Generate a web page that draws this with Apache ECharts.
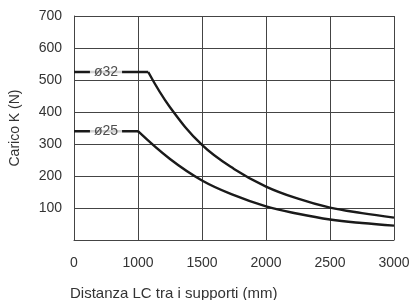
<!DOCTYPE html>
<html>
<head>
<meta charset="utf-8">
<script src="https://cdn.jsdelivr.net/npm/echarts@6/dist/echarts.min.js"></script>
<style>
  html, body { margin: 0; padding: 0; background: #fff; }
  #chart { width: 414px; height: 300px; }
</style>
</head>
<body>
<div id="chart"></div>
<script>
// distanza LC (mm) e carico K (N)
const d32 = [0, 1080, 1250, 1500, 1750, 2000, 2250, 2500, 2750, 3000]
const k32 = [525, 525, 415, 297, 222, 167, 129, 101, 84, 70]
const d25 = [0, 1000, 1250, 1500, 1750, 2000, 2250, 2500, 2750, 3000]
const k25 = [340, 340, 253, 186, 140, 105, 82, 64, 53, 45]
const xTicks = [0, 1000, 1500, 2000, 2500, 3000]
const labelText = ['ø32', 'ø25']
const labelAt = [500, 500]
const labelK = [525, 340]

// the x axis is broken: 0..1000 takes the same width as 500
function pos (mm) {
  return mm <= 1000 ? 500 + mm / 2 : mm
}
function axisText (v) {
  return v <= 1000 ? String((v - 500) * 2) : String(v)
}

const font = 'Liberation Sans, Arial, sans-serif'
const chart = echarts.init(document.getElementById('chart'))
const lineStyle = { color: '#1a1a1a', width: 2.4 }

// flat part up to the knee (straight), then the falling curve (smoothed)
function curve (xs, ys) {
  const pts = xs.map((x, i) => [pos(x), ys[i]])
  return [
    { type: 'line', data: pts.slice(0, 2), symbol: 'none', lineStyle: lineStyle, z: 4 },
    { type: 'line', data: pts.slice(1), symbol: 'none', smooth: 0.4, lineStyle: lineStyle, z: 4 }
  ]
}

const labelSeries = {
  type: 'scatter',
  symbolSize: 0,
  z: 10,
  data: labelText.map((t, i) => ({ value: [pos(labelAt[i]), labelK[i]], name: t })),
  label: {
    show: true,
    position: 'inside',
    formatter: p => p.name,
    color: '#222',
    fontSize: 14,
    fontFamily: font,
    backgroundColor: '#fff',
    padding: [1, 4]
  }
}

chart.setOption({
  animation: false,
  title: {
    text: 'Distanza LC tra i supporti (mm)',
    left: 65,
    top: 281,
    textStyle: { fontSize: 15, fontWeight: 'normal', color: '#333', fontFamily: font }
  },
  grid: { left: 74, right: 20, top: 16, bottom: 60 },
  xAxis: {
    type: 'value',
    min: pos(xTicks[0]),
    max: pos(xTicks[xTicks.length - 1]),
    interval: 500,
    axisLine: { show: true, lineStyle: { color: '#444', width: 1 } },
    axisTick: { show: false },
    axisLabel: { formatter: axisText, color: '#333', fontSize: 14, fontFamily: font, margin: 16 },
    splitLine: { show: true, lineStyle: { color: '#444', width: 1 } }
  },
  yAxis: {
    type: 'value',
    min: 0,
    max: 700,
    interval: 100,
    name: 'Carico K (N)',
    nameLocation: 'middle',
    nameGap: 52,
    nameTextStyle: { color: '#333', fontSize: 14, fontFamily: font },
    axisLine: { show: true, lineStyle: { color: '#444', width: 1 } },
    axisTick: { show: false },
    axisLabel: { showMinLabel: false, color: '#333', fontSize: 14, fontFamily: font, margin: 12 },
    splitLine: { show: true, lineStyle: { color: '#444', width: 1 } }
  },
  series: curve(d32, k32).concat(curve(d25, k25), [labelSeries])
})
</script>
</body>
</html>
